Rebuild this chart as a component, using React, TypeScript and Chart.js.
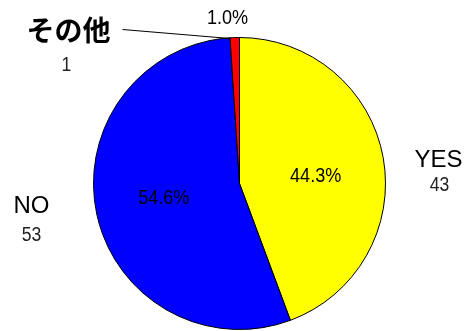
import React, { useEffect, useRef } from "react";
import { Chart, registerables } from "chart.js";

Chart.register(...registerables);

const categories = ["YES", "NO", "その他"];
const counts = [43, 53, 1];
const percentLabels = ["44.3%", "54.6%", "1.0%"];
const sliceColors = ["#FFFF00", "#0000FF", "#FF0000"];

// text placement relative to pie centre (layout only)
const nameOffsets = [
  [199, -23],
  [-208, 23],
  [-171, -153],
];
const valueOffsets = [
  [200, 2],
  [-208, 52],
  [-173, -118],
];
const nameFonts = [
  "24px 'Liberation Sans', Arial, sans-serif",
  "24px 'Liberation Sans', Arial, sans-serif",
  "bold 28px 'Noto Sans CJK JP', sans-serif",
];
const NUM_FONT = "'Liberation Sans', Arial, sans-serif";

function narrowText(ctx: CanvasRenderingContext2D, text: string, x: number, y: number, sx: number) {
  ctx.save();
  ctx.translate(x, y);
  ctx.scale(sx, 1);
  ctx.fillText(text, 0, 0);
  ctx.restore();
}

const labelPlugin = {
  id: "pieLabels",
  afterDatasetsDraw(chart: any) {
    const ctx = chart.ctx as CanvasRenderingContext2D;
    const meta = chart.getDatasetMeta(0);
    ctx.save();
    ctx.textAlign = "center";
    ctx.textBaseline = "middle";
    meta.data.forEach((arc: any, i: number) => {
      const { x, y, startAngle, endAngle, outerRadius } = arc.getProps(
        ["x", "y", "startAngle", "endAngle", "outerRadius"],
        true
      );
      const mid = (startAngle + endAngle) / 2;
      // percentage
      ctx.fillStyle = "#000";
      ctx.font = "21px " + NUM_FONT;
      if (i === 2) {
        narrowText(ctx, percentLabels[i], x - 12, y - outerRadius * 1.13, 0.86);
      } else {
        const d = outerRadius * 0.53;
        narrowText(
          ctx,
          percentLabels[i],
          x + Math.cos(mid) * d,
          y + Math.sin(mid) * d + (i === 0 ? 6 : -1),
          0.86
        );
      }
      // category name
      ctx.font = nameFonts[i];
      ctx.fillStyle = "#000";
      ctx.fillText(categories[i], x + nameOffsets[i][0], y + nameOffsets[i][1]);
      // count
      ctx.font = "20px " + NUM_FONT;
      ctx.fillStyle = "#222";
      narrowText(ctx, String(counts[i]), x + valueOffsets[i][0], y + valueOffsets[i][1], 0.88);
      // leader line for small slice
      if (i === 2) {
        ctx.strokeStyle = "#000";
        ctx.lineWidth = 1;
        ctx.beginPath();
        ctx.moveTo(x + nameOffsets[i][0] + 54, y + nameOffsets[i][1] - 1);
        ctx.lineTo(x + Math.cos(mid) * outerRadius - 4, y + Math.sin(mid) * outerRadius + 1);
        ctx.stroke();
      }
    });
    ctx.restore();
  },
};

export default function App() {
  const ref = useRef<HTMLCanvasElement>(null);
  useEffect(() => {
    document.body.style.margin = "0";
    const chart = new Chart(ref.current!, {
      type: "pie",
      data: {
        labels: categories,
        datasets: [
          {
            data: counts,
            backgroundColor: sliceColors,
            borderColor: "#000",
            borderWidth: 1,
          },
        ],
      },
      options: {
        responsive: false,
        animation: false,
        layout: { padding: { left: 93, right: 81, top: 37, bottom: 1 } },
        plugins: {
          legend: { display: false },
          tooltip: { enabled: false },
        },
      },
      plugins: [labelPlugin],
    });
    return () => chart.destroy();
  }, []);
  return (
    <div style={{ position: "absolute", left: 0, top: 0, width: 467, height: 331, background: "#fff" }}>
      <canvas ref={ref} width={467} height={331} />
    </div>
  );
}
